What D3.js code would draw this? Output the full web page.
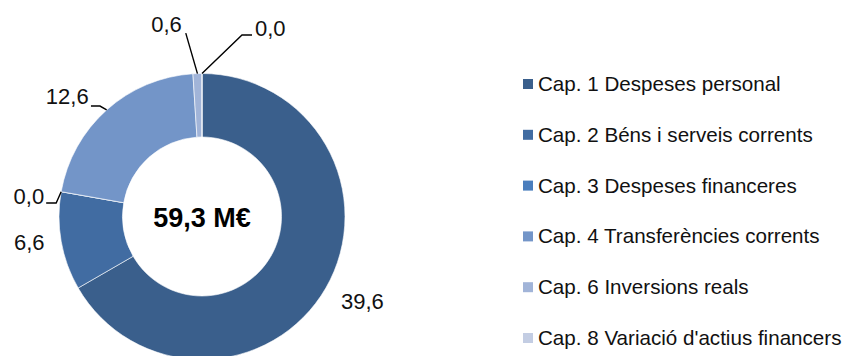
<!DOCTYPE html>
<html>
<head>
<meta charset="utf-8">
<script src="https://cdn.jsdelivr.net/npm/d3@7"></script>
<style>
  html, body { margin: 0; padding: 0; background: #fff; }
  svg { display: block; font-family: "Liberation Sans", Arial, sans-serif; }
</style>
</head>
<body>
<svg id="chart" width="846" height="356"></svg>
<script>
// Budget chapters (M€)
const categories = [
  "Cap. 1 Despeses personal",
  "Cap. 2 Béns i serveis corrents",
  "Cap. 3 Despeses financeres",
  "Cap. 4 Transferències corrents",
  "Cap. 6 Inversions reals",
  "Cap. 8 Variació d'actius financers"
];
const values = [39.6, 6.6, 0.0, 12.6, 0.6, 0.0];
const totalValue = 59.3;
const colors = ["#3a5f8c", "#416ca2", "#4a7ebd", "#7395c8", "#a1b4d8", "#c3cde3"];

// Label placement relative to each slice's outer-edge midpoint
// text: [dx, dy] of the text anchor; leader: elbow points of the connector line
const labelLayout = [
  { text: [36.5, 21], anchor: "middle" },
  { text: [-32, 9], anchor: "middle" },
  { text: [-17, 12.5], anchor: "end", leader: [[-5, 11.3], [-15, 11.3]] },
  { text: [-18, -5.5], anchor: "end", leader: [[-6.7, -3.9], [-15.7, -3.9]] },
  { text: [-15.7, -41.5], anchor: "end", leader: [[-11.7, -40.5]] },
  { text: [53, -37.5], anchor: "start", leader: [[40, -38.5], [50, -38.5]] }
];

const fmt = v => d3.format(".1f")(v).replace(".", ",");

const svg = d3.select("#chart");
const cx = 202, cy = 216.5, outerR = 143, innerR = 79.5;

const pie = d3.pie().sort(null).value(d => d).startAngle(0).endAngle(2 * Math.PI);
const arcs = pie(values);
const arc = d3.arc().innerRadius(innerR).outerRadius(outerR);

const g = svg.append("g").attr("transform", `translate(${cx},${cy})`);

g.selectAll("path.slice")
  .data(arcs)
  .join("path")
  .attr("class", "slice")
  .attr("d", arc)
  .attr("fill", (d, i) => colors[i])
  .attr("stroke", "#ffffff")
  .attr("stroke-width", 0.6);

// Anchor point on the outer edge at each slice's mid angle
const edgePoint = d => {
  const a = (d.startAngle + d.endAngle) / 2;
  return [outerR * Math.sin(a), -outerR * Math.cos(a)];
};

arcs.forEach((d, i) => {
  const p = edgePoint(d);
  const lay = labelLayout[i];
  if (lay.leader) {
    const pts = [p].concat(lay.leader.map(o => [p[0] + o[0], p[1] + o[1]]));
    g.append("path")
      .attr("d", d3.line()(pts))
      .attr("fill", "none")
      .attr("stroke", "#000")
      .attr("stroke-width", 1.4);
  }
  g.append("text")
    .attr("x", p[0] + lay.text[0])
    .attr("y", p[1] + lay.text[1])
    .attr("text-anchor", lay.anchor)
    .attr("font-size", "22px")
    .attr("fill", "#111")
    .text(fmt(values[i]));
});

// Total in the donut hole
g.append("text")
  .attr("x", 0)
  .attr("y", 10.2)
  .attr("text-anchor", "middle")
  .attr("font-size", "27px")
  .attr("font-weight", "bold")
  .attr("fill", "#000")
  .text(fmt(totalValue) + " M€");

// Legend
const legendY = d3.scalePoint().domain(categories).range([84, 338]);
const legend = svg.append("g");
const items = legend.selectAll("g")
  .data(categories)
  .join("g")
  .attr("transform", d => `translate(523,${legendY(d)})`);
items.append("rect")
  .attr("x", 0).attr("y", -5)
  .attr("width", 10).attr("height", 10)
  .attr("fill", (d, i) => colors[i]);
items.append("text")
  .attr("x", 15)
  .attr("y", 7)
  .attr("font-size", "20.6px")
  .attr("fill", "#111")
  .text(d => d);
</script>
</body>
</html>
